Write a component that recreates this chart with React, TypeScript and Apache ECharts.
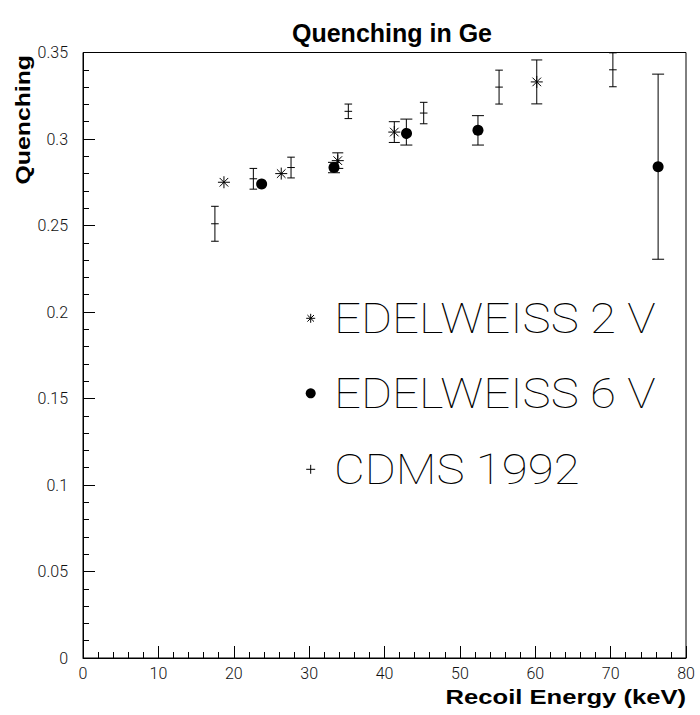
import React, { useEffect, useRef } from "react";
import * as echarts from "echarts";

// EDELWEISS 2 V (asterisk markers)
const e2X = [18.7, 26.3, 33.8, 41.3, 60.2];
const e2Y = [0.275, 0.28, 0.2875, 0.304, 0.333];
const e2Err = [0, 0, 0.0045, 0.006, 0.0127];

// EDELWEISS 6 V (filled circles)
const e6X = [23.7, 33.3, 42.9, 52.4, 76.3];
const e6Y = [0.274, 0.2835, 0.304, 0.305, 0.284];
const e6Err = [0, 0.003, 0.0075, 0.0085, 0.0535];

// CDMS 1992 (plus markers)
const cdX = [17.5, 22.6, 27.6, 35.2, 45.2, 55.2, 70.3];
const cdY = [0.251, 0.277, 0.2835, 0.316, 0.315, 0.33, 0.34];
const cdErr = [0.0101, 0.006, 0.006, 0.0042, 0.0062, 0.0098, 0.0098];

const legendNames = ["EDELWEISS 2 V", "EDELWEISS 6 V", "CDMS 1992"];
const xTicks = [0, 10, 20, 30, 40, 50, 60, 70, 80];
const yTicks = [0, 0.05, 0.1, 0.15, 0.2, 0.25, 0.3, 0.35];

const THIN = '"Roboto", "DejaVu Sans", sans-serif';
const BOLD = '"Liberation Sans", Arial, sans-serif';

function zip(xs: number[], ys: number[], es: number[]) {
  return xs.map((x, i) => [x, ys[i], es[i]]);
}

function makeRender(kind: "asterisk" | "dot" | "plus", capHalf: number) {
  return (params: any, api: any) => {
    const x = api.value(0);
    const y = api.value(1);
    const e = api.value(2);
    const c = api.coord([x, y]);
    const children: any[] = [];
    const ls = { stroke: "#000", lineWidth: 1 };
    if (e > 0) {
      const lo = api.coord([x, y - e]);
      const hi = api.coord([x, y + e]);
      children.push({ type: "line", shape: { x1: c[0], y1: lo[1], x2: c[0], y2: hi[1] }, style: ls });
      children.push({ type: "line", shape: { x1: c[0] - capHalf, y1: lo[1], x2: c[0] + capHalf, y2: lo[1] }, style: ls });
      children.push({ type: "line", shape: { x1: c[0] - capHalf, y1: hi[1], x2: c[0] + capHalf, y2: hi[1] }, style: ls });
    }
    if (kind === "dot") {
      children.push({ type: "circle", shape: { cx: c[0], cy: c[1], r: 5.5 }, style: { fill: "#000" } });
    } else if (kind === "asterisk") {
      const h = 6;
      const d = 4.3;
      children.push({ type: "line", shape: { x1: c[0] - h, y1: c[1], x2: c[0] + h, y2: c[1] }, style: ls });
      children.push({ type: "line", shape: { x1: c[0], y1: c[1] - h, x2: c[0], y2: c[1] + h }, style: ls });
      children.push({ type: "line", shape: { x1: c[0] - d, y1: c[1] - d, x2: c[0] + d, y2: c[1] + d }, style: ls });
      children.push({ type: "line", shape: { x1: c[0] - d, y1: c[1] + d, x2: c[0] + d, y2: c[1] - d }, style: ls });
    } else {
      children.push({ type: "line", shape: { x1: c[0] - capHalf, y1: c[1], x2: c[0] + capHalf, y2: c[1] }, style: ls });
      if (e <= 0) {
        children.push({ type: "line", shape: { x1: c[0], y1: c[1] - capHalf, x2: c[0], y2: c[1] + capHalf }, style: ls });
      }
    }
    return { type: "group", children };
  };
}

function legendMarks() {
  const ls = { stroke: "#000", lineWidth: 1 };
  const ax = 310.7;
  const y1 = 318.3;
  const y2 = 393.3;
  const y3 = 469.3;
  const h = 4.5;
  const d = 3.3;
  return [
    { type: "line", shape: { x1: ax - h, y1: y1, x2: ax + h, y2: y1 }, style: ls },
    { type: "line", shape: { x1: ax, y1: y1 - h, x2: ax, y2: y1 + h }, style: ls },
    { type: "line", shape: { x1: ax - d, y1: y1 - d, x2: ax + d, y2: y1 + d }, style: ls },
    { type: "line", shape: { x1: ax - d, y1: y1 + d, x2: ax + d, y2: y1 - d }, style: ls },
    { type: "circle", shape: { cx: ax, cy: y2, r: 5 }, style: { fill: "#000" } },
    { type: "line", shape: { x1: ax - h, y1: y3, x2: ax + h, y2: y3 }, style: ls },
    { type: "line", shape: { x1: ax, y1: y3 - h, x2: ax, y2: y3 + h }, style: ls },
    ...legendNames.map((n, i) => ({
      type: "text",
      x: 334,
      y: [318, 393, 469][i],
      scaleX: 1.13,
      style: {
        text: n,
        fill: "#000",
        font: `100 42px ${THIN}`,
        textAlign: "left",
        textVerticalAlign: "middle",
      },
    })),
  ];
}

export default function App() {
  const ref = useRef<HTMLDivElement>(null);
  useEffect(() => {
    if (!ref.current) return;
    document.body.style.margin = "0";
    const chart = echarts.init(ref.current, null, { renderer: "svg" });
    const axisLabel = { color: "#111", fontFamily: THIN, fontWeight: 300, fontSize: 16 };
    chart.setOption({
      animation: false,
      backgroundColor: "#fff",
      title: {
        text: "Quenching in Ge",
        left: 387,
        top: 15,
        textAlign: "center",
        textStyle: { fontFamily: BOLD, fontWeight: "bold", fontSize: 25, color: "#000" },
      },
      grid: {
        left: 83,
        right: 14,
        top: 52.5,
        bottom: 57,
        show: true,
        borderColor: "#000",
        borderWidth: 1,
        backgroundColor: "transparent",
      },
      xAxis: {
        type: "value",
        min: 0,
        max: 80,
        interval: 10,
        axisLine: { show: true, onZero: false, lineStyle: { color: "#000", width: 1 } },
        axisTick: { show: true, inside: true, length: 12, lineStyle: { color: "#000" } },
        minorTick: { show: true, splitNumber: 5, length: 6, lineStyle: { color: "#000" } },
        splitLine: { show: false },
        axisLabel: {
          ...axisLabel,
          margin: 7,
          formatter: (v: number) => (xTicks.includes(v) ? String(v) : ""),
        },
      },
      yAxis: {
        type: "value",
        min: 0,
        max: 0.35,
        interval: 0.05,
        axisLine: { show: true, onZero: false, lineStyle: { color: "#000", width: 1 } },
        axisTick: { show: true, inside: true, length: 12, lineStyle: { color: "#000" } },
        minorTick: { show: true, splitNumber: 5, length: 6, lineStyle: { color: "#000" } },
        splitLine: { show: false },
        axisLabel: {
          ...axisLabel,
          margin: 15,
          formatter: (v: number) => {
            const t = yTicks.find((k) => Math.abs(k - v) < 1e-9);
            return t === undefined ? "" : String(parseFloat(t.toFixed(2)));
          },
        },
      },
      series: [
        {
          name: legendNames[0],
          type: "custom",
          renderItem: makeRender("asterisk", 5.5),
          data: zip(e2X, e2Y, e2Err),
          encode: { x: 0, y: 1 },
          clip: true,
        },
        {
          name: legendNames[1],
          type: "custom",
          renderItem: makeRender("dot", 6),
          data: zip(e6X, e6Y, e6Err),
          encode: { x: 0, y: 1 },
          clip: true,
        },
        {
          name: legendNames[2],
          type: "custom",
          renderItem: makeRender("plus", 3.8),
          data: zip(cdX, cdY, cdErr),
          encode: { x: 0, y: 1 },
          clip: true,
        },
      ],
      graphic: [
        ...legendMarks(),
        {
          type: "text",
          x: 23,
          y: 55,
          rotation: Math.PI / 2,
          scaleX: 1.24,
          style: {
            text: "Quenching",
            fill: "#000",
            font: `bold 20px ${BOLD}`,
            textAlign: "right",
            textVerticalAlign: "middle",
          },
        },
        {
          type: "text",
          x: 686,
          y: 697,
          scaleX: 1.22,
          style: {
            text: "Recoil Energy (keV)",
            fill: "#000",
            font: `bold 21px ${BOLD}`,
            textAlign: "right",
            textVerticalAlign: "middle",
          },
        },
      ],
    });
    return () => chart.dispose();
  }, []);
  return <div ref={ref} style={{ width: 700, height: 715 }} />;
}
